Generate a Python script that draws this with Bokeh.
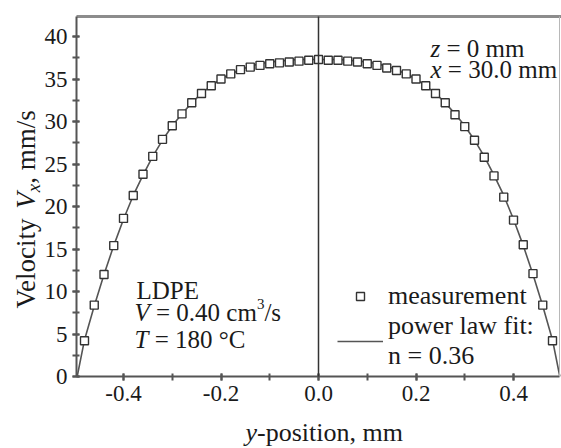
from math import pi
from bokeh.plotting import figure
from bokeh.models import (Range1d, SingleIntervalTicker, PrintfTickFormatter, LinearAxis,
                          FixedTicker, Label, Legend, LegendItem)
from bokeh.embed import file_html
from bokeh.resources import INLINE

# ---- data ----
y_position = [-0.48, -0.46, -0.44, -0.42, -0.40, -0.38, -0.36, -0.34, -0.32, -0.30,
              -0.28, -0.26, -0.24, -0.22, -0.20, -0.18, -0.16, -0.14, -0.12, -0.10,
              -0.08, -0.06, -0.04, -0.02, 0.00, 0.02, 0.04, 0.06, 0.08, 0.10,
              0.12, 0.14, 0.16, 0.18, 0.20, 0.22, 0.24, 0.26, 0.28, 0.30,
              0.32, 0.34, 0.36, 0.38, 0.40, 0.42, 0.44, 0.46, 0.48]
v_measured = [4.2, 8.4, 12.0, 15.4, 18.6, 21.3, 23.8, 25.9, 27.9, 29.5,
              30.9, 32.2, 33.3, 34.2, 35.0, 35.6, 36.1, 36.4, 36.6, 36.8,
              36.9, 37.0, 37.1, 37.2, 37.3, 37.2, 37.2, 37.1, 37.0, 36.8,
              36.6, 36.3, 36.0, 35.6, 35.0, 34.2, 33.3, 32.2, 30.8, 29.4,
              27.8, 25.8, 23.6, 21.1, 18.4, 15.5, 12.1, 8.4, 4.2]
fit_y = [-0.495, -0.48, -0.46, -0.44, -0.42, -0.40, -0.38, -0.36, -0.34, -0.32, -0.30,
         -0.28, -0.26, -0.24, -0.22, -0.20, -0.18, -0.16, -0.14, -0.12, -0.10,
         -0.08, -0.06, -0.04, -0.02, 0.00, 0.02, 0.04, 0.06, 0.08, 0.10,
         0.12, 0.14, 0.16, 0.18, 0.20, 0.22, 0.24, 0.26, 0.28, 0.30,
         0.32, 0.34, 0.36, 0.38, 0.40, 0.42, 0.44, 0.46, 0.48, 0.495]
fit_v = [0.0, 4.3, 8.3, 12.0, 15.4, 18.5, 21.3, 23.7, 25.9, 27.8, 29.5,
         30.9, 32.2, 33.3, 34.2, 35.0, 35.6, 36.1, 36.5, 36.8, 37.0,
         37.1, 37.2, 37.3, 37.3, 37.3, 37.3, 37.3, 37.2, 37.1, 37.0,
         36.8, 36.5, 36.1, 35.6, 35.0, 34.2, 33.3, 32.2, 30.9, 29.5,
         27.8, 25.9, 23.7, 21.3, 18.5, 15.4, 12.0, 8.3, 4.3, 0.0]
legend_labels = ["measurement", "power law fit:\nn = 0.36"]

# plot box (axis limits of the visible frame)
X_MIN, X_MAX = -0.4964, 0.4944
Y_MIN, Y_MAX = 0.0, 42.35

FONT = "Liberation Serif"
TICK_FONT = "'Liberation Serif'"
TXT = "#1a1a1a"
AX = "#555555"

W_PX, H_PX = 561, 448
# whole canvas is the frame; axes are pinned at the box edges
XS = 487.5   # px per mm
YS = 8.5     # px per mm/s
X0PX, Y0PX = 318.0, 376.0
x_lo = (0 - X0PX) / XS
x_hi = (W_PX - X0PX) / XS
y_lo = (Y0PX - H_PX) / YS
y_hi = Y0PX / YS

p = figure(width=W_PX, height=H_PX, output_backend="svg", toolbar_location=None,
           x_range=Range1d(x_lo, x_hi), y_range=Range1d(y_lo, y_hi),
           min_border=0, x_axis_type=None, y_axis_type=None)
p.outline_line_color = None
p.background_fill_color = "white"
p.border_fill_color = "white"

def style_axis(ax, standoff):
    ax.axis_line_color = AX
    ax.axis_line_width = 2
    ax.major_tick_line_color = AX
    ax.minor_tick_line_color = AX
    ax.major_tick_line_width = 2
    ax.minor_tick_line_width = 2
    ax.major_tick_in = 3
    ax.major_tick_out = 4
    ax.minor_tick_in = 3
    ax.minor_tick_out = 4
    ax.major_label_text_font = TICK_FONT
    ax.major_label_text_font_size = "23px"
    ax.major_label_text_color = TXT
    ax.major_label_standoff = standoff

xax = LinearAxis(ticker=SingleIntervalTicker(interval=0.2, num_minor_ticks=2),
                 formatter=PrintfTickFormatter(format="%.1f"),
                 fixed_location=Y_MIN, bounds=(X_MIN, X_MAX))
style_axis(xax, 5)
p.add_layout(xax, "below")
yax = LinearAxis(ticker=SingleIntervalTicker(interval=5, num_minor_ticks=2),
                 fixed_location=X_MIN, bounds=(Y_MIN, Y_MAX))
style_axis(yax, 5)
p.add_layout(yax, "left")

def plain_line(side, loc, bounds, color, width):
    ax = LinearAxis(ticker=FixedTicker(ticks=[]), fixed_location=loc, bounds=bounds,
                    major_label_text_font_size="0px", axis_line_color=color,
                    axis_line_width=width, major_tick_line_color=None,
                    minor_tick_line_color=None)
    p.add_layout(ax, side)

plain_line("above", Y_MAX, (X_MIN, x_hi), "#8c8c8c", 3)     # top frame line
plain_line("right", X_MAX, (Y_MIN, Y_MAX), "#b8b8b8", 1)    # right frame line
plain_line("left", 0.0, (Y_MIN, Y_MAX), "#333333", 1.5)     # centre line at y = 0

fit = p.line(fit_y, fit_v, line_color="#555555", line_width=1.6)
meas = p.scatter(y_position, v_measured, marker="square", size=8,
                 line_color="#333333", line_width=1.4, fill_color="white")

leg = Legend(items=[LegendItem(label=legend_labels[0], renderers=[meas]),
                    LegendItem(label=legend_labels[1], renderers=[fit])],
             location=(337, 77), glyph_width=46, glyph_height=20, label_standoff=5,
             padding=0, margin=0, spacing=0, border_line_alpha=0, background_fill_alpha=0,
             label_text_font=FONT, label_text_font_size="26px", label_text_color=TXT,
             label_text_line_height=1.1)
p.add_layout(leg, "center")

# ---- rich text helper ----
W = {' ': 250, '=': 564, '.': 250, ',': 250, '/': 278, '°': 400, '-': 333, ':': 278,
     'c': 444, 'm': 778, 's': 389, 'p': 500, 'o': 500, 'i': 278, 't': 278, 'n': 500,
     'e': 444, 'l': 278, 'y': 500, 'a': 444, 'u': 500, 'r': 333, 'w': 722, 'f': 333,
     'C': 667, 'V': 722, 'L': 611, 'D': 722, 'P': 556, 'E': 611}
WI = {'z': 389, 'x': 444, 'V': 611, 'T': 556, 'y': 444}
BASE_FIX = 0.3   # em; lifts the glyphs onto the intended baseline

def width(txt, size, italic=False):
    tot = 0
    for ch in txt:
        if italic:
            tot += WI.get(ch, 500)
        else:
            tot += 500 if ch.isdigit() else W.get(ch, 500)
    return tot * size / 1000.0

def px2data(px, py):
    return (px - X0PX) / XS, (Y0PX - py) / YS

def rich(parts, px, py, size=25, angle=0.0):
    """parts: list of (text, italic, raise_px, scale)."""
    x, y = px2data(px, py)
    off = 0.0
    for txt, italic, shift, scale in parts:
        fs = size * scale
        lead = len(txt) - len(txt.lstrip(" "))
        off += lead * 0.25 * fs
        t = txt.lstrip(" ")
        rise = shift + BASE_FIX * fs
        if angle == 0:
            xo, yo = off, rise
        else:
            xo, yo = -rise, off
        p.add_layout(Label(x=x, y=y, text=t, x_offset=xo, y_offset=yo, angle=angle,
                           text_font=FONT, text_font_size=f"{fs:.1f}px",
                           text_font_style="italic" if italic else "normal",
                           text_color=TXT, text_align="left", text_baseline="alphabetic"))
        off += width(t, fs, italic)

rich([("z", True, 0, 1), (" = 0 mm", False, 0, 1)], 430, 55)
rich([("x", True, 0, 1), (" = 30.0 mm", False, 0, 1)], 430, 76)
rich([("LDPE", False, 0, 1)], 136, 297)
rich([("V", True, 0, 1), (" = 0.40 cm", False, 0, 1), ("3", False, 11, 0.6), ("/s", False, 0, 1)], 134, 319)
rich([("T", True, 0, 1), (" = 180 °C", False, 0, 1)], 134, 346)
rich([("Velocity ", False, 0, 1), ("V", True, 0, 1), ("x", True, -5, 0.7), (", mm/s", False, 0, 1)],
     34, 308, size=27, angle=pi / 2)
rich([("y", True, 0, 1), ("-position, mm", False, 0, 1)], 245, 440, size=26)

open("out.html", "w").write(file_html(p, INLINE))
